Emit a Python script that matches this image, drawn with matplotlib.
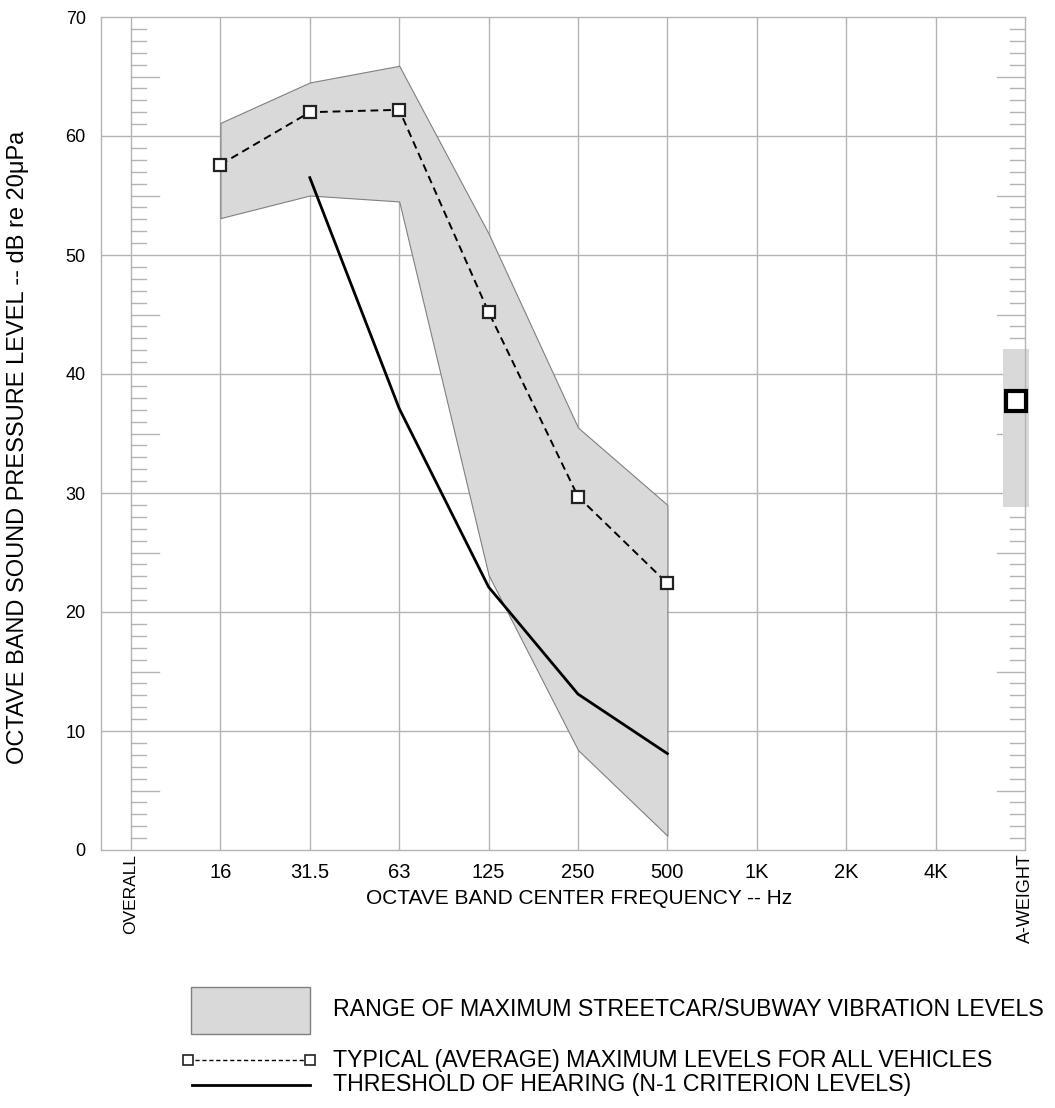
import matplotlib
matplotlib.use("Agg")
from matplotlib import pyplot as plt
from matplotlib.patches import Rectangle
from matplotlib.lines import Line2D

plt.rcParams['font.family'] = ['Liberation Sans', 'DejaVu Sans']

bands = ["OVERALL", "16", "31.5", "63", "125", "250", "500", "1K", "2K", "4K", "A-WEIGHT"]

# octave band data (16 Hz .. 500 Hz)
range_bands = ["16", "31.5", "63", "125", "250", "500"]
range_hi = [61.1, 64.5, 65.9, 51.8, 35.5, 29.0]
range_lo = [53.1, 55.0, 54.5, 23.1, 8.4, 1.2]
typical = [57.6, 62.0, 62.2, 45.2, 29.7, 22.4]

threshold_bands = ["31.5", "63", "125", "250", "500"]
threshold = [56.5, 37.1, 22.1, 13.1, 8.1]

# A-weighted overall
aw_typical = 37.7
aw_lo = 28.8
aw_hi = 42.1

GRID = "#b4b4b4"
FILL = "#d9d9d9"
EDGE = "#808080"

fig = plt.figure(figsize=(10.55, 11.08), dpi=100)
ax = fig.add_axes([101 / 1055, 1 - 850 / 1108, 924 / 1055, 833 / 1108])

pos = {b: i for i, b in enumerate(bands)}
xr = [pos[b] for b in range_bands]
xt = [pos[b] for b in threshold_bands]
xa = pos["A-WEIGHT"] - 0.1

ax.set_xlim(-0.336, 10)
ax.set_ylim(0, 70)

# grid
for i in range(1, 10):
    ax.axvline(i, color=GRID, lw=1, zorder=0)
for v in range(10, 70, 10):
    ax.axhline(v, color=GRID, lw=1, zorder=0)

# dB rulers at OVERALL and A-WEIGHT
ax.axvline(0, color=GRID, lw=1, zorder=0)
for v in range(1, 70):
    if v % 10 == 0:
        continue
    ln = 0.31 if v % 5 == 0 else 0.165
    ax.plot([0, ln], [v, v], color=GRID, lw=1, zorder=0)
    ax.plot([10 - ln, 10], [v, v], color=GRID, lw=1, zorder=0)

# range band
ax.fill_between(xr, range_lo, range_hi, facecolor=FILL, edgecolor=EDGE, lw=0.8, zorder=1)
ax.add_patch(Rectangle((xa - 0.15, aw_lo), 0.3, aw_hi - aw_lo, facecolor=FILL,
                       edgecolor="none", clip_on=False, zorder=1))

# threshold of hearing
ax.plot(xt, threshold, color="black", lw=2, zorder=2)

# typical levels
ax.plot(xr, typical, color="black", lw=1.4, ls=(0, (4, 2.5)), marker="s", ms=9,
        mfc="white", mec="#222222", mew=1.6, zorder=3)
ax.plot([xa], [aw_typical], marker="s", ms=14, mfc="white", mec="black", mew=3,
        clip_on=False, zorder=4)

# axes styling
for s in ax.spines.values():
    s.set_color(GRID)
    s.set_linewidth(1)
ax.set_yticks(range(0, 71, 10))
ax.tick_params(axis="y", length=0, pad=11, labelsize=13)
ax.set_xticks(range(1, 10))
ax.set_xticklabels(bands[1:10])
ax.tick_params(axis="x", length=0, pad=9, labelsize=14.5)

ax.text(0, -0.3, "OVERALL", rotation=90, ha="center", va="top", fontsize=12.5)
ax.text(10, -0.3, "A-WEIGHT", rotation=90, ha="center", va="top", fontsize=13)

fig.text(18 / 1055, 1 - 447 / 1108, "OCTAVE BAND SOUND PRESSURE LEVEL -- dB re 20\u03bcPa",
         rotation=90, ha="center", va="center", fontsize=17)
fig.text(579 / 1055, 1 - 898 / 1108, "OCTAVE BAND CENTER FREQUENCY -- Hz",
         ha="center", va="center", fontsize=15)

# legend
W, H = 1055, 1108
fig.patches.append(Rectangle((191 / W, 1 - 1034 / H), 119 / W, 47 / H, transform=fig.transFigure,
                             facecolor=FILL, edgecolor=EDGE, lw=1))
fig.text(333 / W, 1 - 1010 / H, "RANGE OF MAXIMUM STREETCAR/SUBWAY VIBRATION LEVELS",
         va="center", fontsize=16.7)
fig.lines.append(Line2D([188 / W, 310 / W], [1 - 1060 / H] * 2, transform=fig.transFigure,
                        color="black", lw=1, ls=(0, (3, 2)), marker="s", ms=7.5,
                        mfc="white", mec="#222222", mew=1.2))
fig.text(333 / W, 1 - 1060 / H, "TYPICAL (AVERAGE) MAXIMUM LEVELS FOR ALL VEHICLES",
         va="center", fontsize=16.7)
fig.lines.append(Line2D([192 / W, 310 / W], [1 - 1085 / H] * 2, transform=fig.transFigure,
                        color="black", lw=2))
fig.text(333 / W, 1 - 1085 / H, "THRESHOLD OF HEARING (N-1 CRITERION LEVELS)",
         va="center", fontsize=16.7)

fig.savefig("out.png", dpi=100)
